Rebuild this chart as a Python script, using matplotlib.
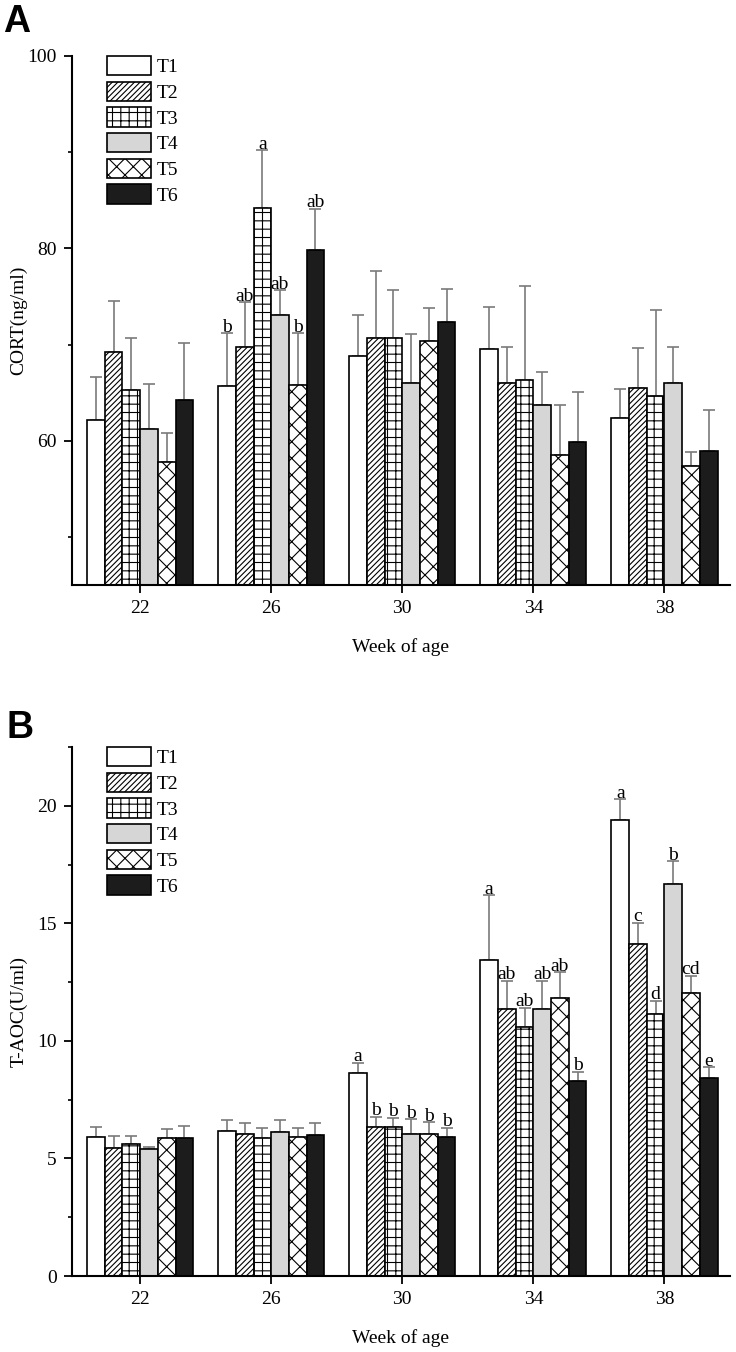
import numpy as np
import matplotlib
matplotlib.use('Agg')
import matplotlib.pyplot as plt
from matplotlib.ticker import MultipleLocator

plt.rcParams['font.family'] = ['Liberation Serif', 'DejaVu Serif']
plt.rcParams['hatch.linewidth'] = 0.8
plt.rcParams['hatch.color'] = 'black'

# data
weeks = ['22', '26', '30', '34', '38']
treatments = ['T1', 'T2', 'T3', 'T4', 'T5', 'T6']

cort_T1 = [62.15, 65.7, 68.85, 69.5, 62.4]
cort_T2 = [69.25, 69.7, 70.7, 66.05, 65.45]
cort_T3 = [65.3, 84.2, 70.65, 66.35, 64.6]
cort_T4 = [61.2, 73.05, 66.0, 63.7, 66.05]
cort_T5 = [57.8, 65.75, 70.4, 58.55, 57.4]
cort_T6 = [64.25, 79.85, 72.3, 59.9, 58.9]

cort_sd_T1 = [4.52, 5.48, 4.24, 4.39, 2.98]
cort_sd_T2 = [5.3, 4.68, 6.94, 3.71, 4.17]
cort_sd_T3 = [5.43, 6.0, 5.01, 9.69, 8.94]
cort_sd_T4 = [4.67, 2.58, 5.08, 3.49, 3.71]
cort_sd_T5 = [3.0, 5.43, 3.42, 5.13, 1.38]
cort_sd_T6 = [5.96, 4.28, 3.5, 5.17, 4.29]

taoc_T1 = [5.92, 6.16, 8.64, 13.43, 19.38]
taoc_T2 = [5.45, 6.06, 6.33, 11.35, 14.14]
taoc_T3 = [5.61, 5.85, 6.33, 10.57, 11.13]
taoc_T4 = [5.40, 6.13, 6.05, 11.35, 16.66]
taoc_T5 = [5.89, 5.92, 6.05, 11.84, 12.04]
taoc_T6 = [5.85, 5.99, 5.92, 8.29, 8.43]

taoc_sd_T1 = [0.41, 0.47, 0.44, 2.76, 0.89]
taoc_sd_T2 = [0.50, 0.43, 0.44, 1.20, 0.89]
taoc_sd_T3 = [0.34, 0.45, 0.41, 0.83, 0.56]
taoc_sd_T4 = [0.10, 0.50, 0.61, 1.20, 0.98]
taoc_sd_T5 = [0.37, 0.37, 0.48, 1.08, 0.74]
taoc_sd_T6 = [0.51, 0.53, 0.37, 0.39, 0.45]

# significance letters (week index -> letters per treatment)
cort_letters = {1: ['b', 'ab', 'a', 'ab', 'b', 'ab']}
taoc_letters = {2: ['a', 'b', 'b', 'b', 'b', 'b'],
                3: ['a', 'ab', 'ab', 'ab', 'ab', 'b'],
                4: ['a', 'c', 'd', 'b', 'cd', 'e']}

cort = [cort_T1, cort_T2, cort_T3, cort_T4, cort_T5, cort_T6]
cort_sd = [cort_sd_T1, cort_sd_T2, cort_sd_T3, cort_sd_T4, cort_sd_T5, cort_sd_T6]
taoc = [taoc_T1, taoc_T2, taoc_T3, taoc_T4, taoc_T5, taoc_T6]
taoc_sd = [taoc_sd_T1, taoc_sd_T2, taoc_sd_T3, taoc_sd_T4, taoc_sd_T5, taoc_sd_T6]

faces = ['white', 'white', 'white', '#d6d6d6', 'white', '#1c1c1c']
hatches = ['', '//////', '++', '', 'xx', '']

FS = 14


def draw_panel(ax, means, sds, letters, ylim, major, minor, ylabel):
    x = np.arange(len(weeks))
    w = 0.135
    for i in range(len(treatments)):
        xs = x + (i - 2.5) * w
        m = np.array(means[i])
        s = np.array(sds[i])
        ax.bar(xs, m - ylim[0], w, bottom=ylim[0], color=faces[i], hatch=hatches[i],
               edgecolor='black', linewidth=1.2, label=treatments[i], zorder=2)
        ax.errorbar(xs, m, yerr=[np.zeros_like(s), s], fmt='none', ecolor='#7a7a7a',
                    elinewidth=1.2, capsize=4.3, capthick=1.2, zorder=1)
        for k, lab in letters.items():
            ax.annotate(lab[i], (xs[k], m[k] + s[k]), xytext=(0, 1.2),
                        textcoords='offset points', ha='center', va='baseline',
                        fontsize=FS)
    ax.set_xlim(-0.52, 4.5)
    ax.set_ylim(*ylim)
    ax.set_xticks(x)
    ax.set_xticklabels(weeks)
    ax.yaxis.set_major_locator(MultipleLocator(major))
    ax.yaxis.set_minor_locator(MultipleLocator(minor))
    for sp in ['top', 'right']:
        ax.spines[sp].set_visible(False)
    for sp in ['left', 'bottom']:
        ax.spines[sp].set_linewidth(1.5)
    ax.tick_params(which='major', direction='out', length=6, width=1.3, labelsize=FS, pad=5)
    ax.tick_params(which='minor', direction='out', length=3, width=1.2)
    ax.tick_params(axis='x', which='minor', bottom=False)
    ax.set_ylabel(ylabel, fontsize=FS)
    ax.set_xlabel('Week of age', fontsize=FS)
    ax.yaxis.set_label_coords(-0.068, 0.5)
    ax.xaxis.set_label_coords(0.5, -0.1)
    ax.legend(loc='upper left', bbox_to_anchor=(0.053, 1.0), frameon=False, fontsize=FS,
              handlelength=2.27, handleheight=1.15, labelspacing=0.28,
              handletextpad=0.3, borderpad=0, borderaxespad=0)


fig = plt.figure(figsize=(7.36, 13.52), dpi=100)
axA = fig.add_axes([0.0978, 0.5673, 0.894, 0.3913])
axB = fig.add_axes([0.0978, 0.0562, 0.894, 0.3913])

draw_panel(axA, cort, cort_sd, cort_letters, (45, 100), 20, 10, 'CORT(ng/ml)')
draw_panel(axB, taoc, taoc_sd, taoc_letters, (0, 22.5), 5, 2.5, 'T-AOC(U/ml)')

fig.text(0.023, 0.984, 'A', fontsize=27, fontweight='bold', family='Liberation Sans',
         ha='center', va='center')
fig.text(0.027, 0.4615, 'B', fontsize=27, fontweight='bold', family='Liberation Sans',
         ha='center', va='center')

fig.savefig('out.png', dpi=100)
